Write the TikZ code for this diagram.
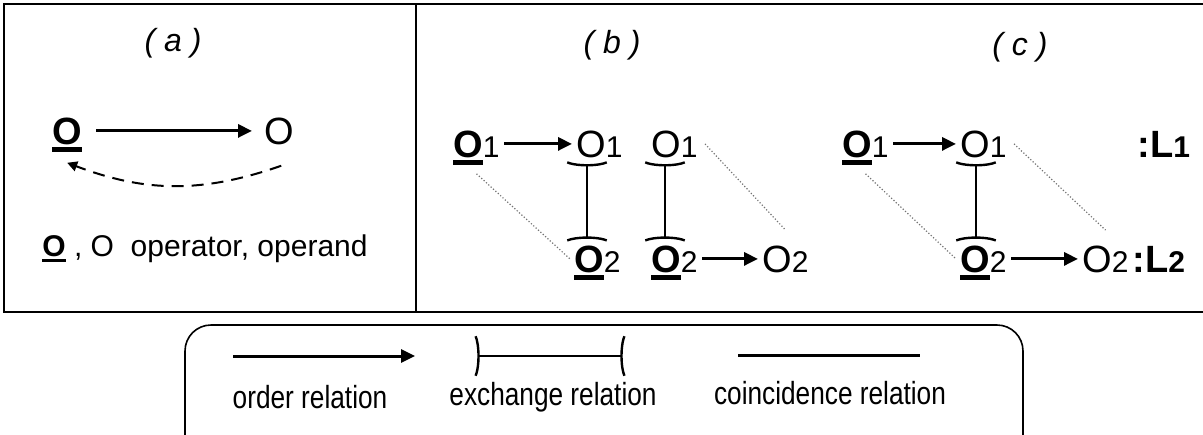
\documentclass[tikz,border=0pt]{standalone}
\usepackage{fontspec}
\setmainfont{Liberation Sans}
\newfontfamily\narrowsf[FakeStretch=0.82]{Liberation Sans}
\usetikzlibrary{arrows.meta}
% operator: bold O with a heavy underline
\newcommand{\opO}{\setbox0\hbox{\bfseries O}\leavevmode\rlap{\smash{\rule[-0.2em]{\wd0}{0.11em}}}\box0}
\newcommand{\lsub}[1]{{\fontsize{15}{17}\selectfont #1}}
\begin{document}
\begin{tikzpicture}[x=0.5pt, y=-0.5pt, font=\fontsize{19}{22}\selectfont,
  every node/.style={inner sep=2pt},
  lbl/.style={font=\fontsize{16}{18}\selectfont\itshape},
  small/.style={font=\fontsize{15}{18}\selectfont},
  legtxt/.style={font=\narrowsf\fontsize{16}{19}\selectfont},
  ord/.style={line width=1.5pt, -{Triangle[length=7pt,width=6.5pt]}},
  exch/.style={line width=1.2pt, {Parenthesis[reversed,width=24pt,length=3.5pt]}-{Parenthesis[reversed,width=24pt,length=3.5pt]}},
  coin/.style={black!55, densely dotted, line width=0.6pt}]
\useasboundingbox (0,0) rectangle (1203,434);
\clip (0,0) rectangle (1203,434);
\draw[line width=1pt] (1210,4) -- (3.5,4) -- (3.5,312) -- (1210,312);
\draw[line width=1pt] (416,4) -- (416,312);
\draw[line width=0.8pt, rounded corners=13pt] (185,325) rectangle (1023,480);

% (a)
\node[lbl] (la) at (173,43) {( a )};
\node[anchor=base west] (op) at (48,144) {\opO};
\node[anchor=base west] (od) at (260,144) {O};
\draw[ord, shorten <=5pt, shorten >=4pt] (op) -- (od);
\draw[line width=1pt, dash pattern=on 6pt off 4pt, -{Triangle[length=5pt,width=5pt]}]
  ([shift={(1pt,-8.5pt)}]od.south) to[bend left=20] ([shift={(0pt,-7pt)}]op.south);
\node[small, anchor=base west] (key) at (38,256) {\opO\ , O\ \ operator, operand};

% (b)
\node[lbl] (lb) at (612,45) {( b )};
\node[anchor=base west] (b1) at (449,157) {\opO\lsub{1}};
\node[anchor=base west] (b2) at (572,157) {O\lsub{1}};
\node[anchor=base west] (b3) at (647,157) {O\lsub{1}};
\node[anchor=base west] (b4) at (570,272) {\opO\lsub{2}};
\node[anchor=base west] (b5) at (647,272) {\opO\lsub{2}};
\node[anchor=base west] (b6) at (758,272) {O\lsub{2}};
\draw[ord] (b1) -- (b2);
\draw[ord] (b5) -- (b6);
\draw[exch] ([xshift=7.5pt]b2.south west) -- ([xshift=7.5pt]b2.south west |- b4.north);
\draw[exch] ([xshift=9pt]b3.south west) -- ([xshift=9pt]b3.south west |- b5.north);
\draw[coin] ([yshift=-6pt]b1.south) -- (b4.west);
\draw[coin] ([xshift=1.5pt]b3.east) -- ([yshift=5.5pt]b6.north);

% (c)
\node[lbl] (lc) at (1020,47) {( c )};
\node[anchor=base west] (c1) at (838,157) {\opO\lsub{1}};
\node[anchor=base west] (c2) at (956,157) {O\lsub{1}};
\node[anchor=base west] (c3) at (956,272) {\opO\lsub{2}};
\node[anchor=base west] (c4) at (1078,272) {O\lsub{2}};
\node[anchor=base west] (L1) at (1133,157) {\bfseries :L\lsub{\bfseries 1}};
\node[anchor=base west] (L2) at (1128,272) {\bfseries :L\lsub{\bfseries 2}};
\draw[ord] (c1) -- (c2);
\draw[ord] (c3) -- (c4);
\draw[exch] ([xshift=10pt]c2.south west) -- ([xshift=10pt]c2.south west |- c3.north);
\draw[coin] ([yshift=-6pt]c1.south) -- (c3.west);
\draw[coin] ([xshift=1.5pt]c2.east) -- ([yshift=5.5pt]c4.north);

% legend
\coordinate (o1) at (233,356); \coordinate (o2) at (415,356);
\coordinate (e1) at (475,356); \coordinate (e2) at (625,356);
\coordinate (k1) at (738,355); \coordinate (k2) at (920,355);
\draw[ord] (o1) -- (o2);
\draw[exch] (e1) -- (e2);
\draw[line width=1.5pt] (k1) -- (k2);
\node[legtxt] (tord) at (310,397) {order relation};
\node[legtxt] (texch) at (553,397) {exchange relation};
\node[legtxt] (tcoin) at (830,393) {coincidence relation};
\end{tikzpicture}
\end{document}
